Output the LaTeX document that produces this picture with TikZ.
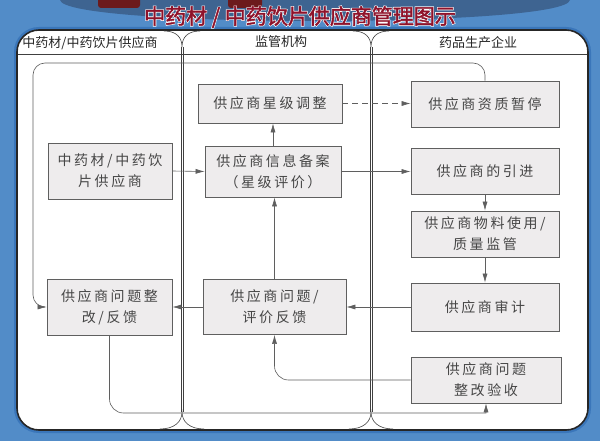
\documentclass[tikz,border=0pt]{standalone}
\usepackage{fontspec}
\usetikzlibrary{positioning}
\usetikzlibrary{calc}
\usetikzlibrary{arrows.meta}
\newfontfamily\cjk{Noto Sans CJK SC}
\newfontfamily\boxcjk[LetterSpace=18]{Noto Sans CJK SC}
\newfontfamily\titlecjk[FakeBold=2]{Noto Sans CJK SC}
\newfontfamily\titleedge[FakeBold=8]{Noto Sans CJK SC}
\definecolor{bgblue}{RGB}{82,140,200}
\definecolor{haloblue}{RGB}{58,118,186}
\definecolor{darkcap}{RGB}{62,100,145}
\definecolor{maroon}{RGB}{108,26,28}
\definecolor{titlered}{RGB}{142,18,42}
\definecolor{boxgray}{RGB}{238,236,237}
\definecolor{linegray}{RGB}{95,95,95}
\definecolor{textgray}{RGB}{70,70,70}

\begin{document}
\begin{tikzpicture}[x=1pt, y=-1pt,
    stepbox/.style={draw=linegray, fill=boxgray, line width=0.8pt, align=center,
        inner sep=0pt, font=\boxcjk\fontsize{14}{21}\selectfont, text=textgray},
    lane/.style={font=\cjk\fontsize{13}{15}\selectfont, text=black!85},
    arr/.style={draw=linegray, line width=0.6pt, -{Latex[length=9pt,width=5pt]}},
    edge/.style={draw=black!75, line width=0.6pt}]
    \useasboundingbox (0,0) rectangle (600,441);
    \fill[bgblue] (0,0) rectangle (600,441);
    \fill[darkcap] (60,0) .. controls (64,28) and (566,28) .. (570,0) -- cycle;
    \fill[maroon, rounded corners=3pt] (98,-5) rectangle (140,8);
    \fill[maroon, rounded corners=3pt] (228,-5) rectangle (262,8);

    \draw[haloblue, line width=6pt, rounded corners=22pt] (17,30) rectangle (588,430);
    \draw[fill=white, draw=black!85, line width=1.6pt, rounded corners=22pt] (17,30) rectangle (588,430);

    \node[text=white, font=\titleedge\fontsize{21}{24}\selectfont] (titleback) at (300,17) {中药材 / 中药饮片供应商管理图示};
    \node[text=titlered, font=\titlecjk\fontsize{21}{24}\selectfont] (title) at (300,17) {中药材 / 中药饮片供应商管理图示};

    \draw[edge] (18,54) -- (587,54);
    \foreach \x in {182, 371} {
        \draw[edge] (\x-1,47) -- (\x-1,412);
        \draw[edge] (\x+1,47) -- (\x+1,412);
        \draw[edge] (\x-18,31) .. controls (\x-6,31) and (\x,37) .. (\x,47)
            .. controls (\x,37) and (\x+6,31) .. (\x+18,31);
        \draw[edge] (\x-22,429) .. controls (\x-8,429) and (\x,422) .. (\x,412)
            .. controls (\x,422) and (\x+8,429) .. (\x+22,429);
    }

    \node[lane] (lanesup) at (90,43) {中药材/中药饮片供应商};
    \node[lane] (lanereg) at (281,42) {监管机构};
    \node[lane] (laneent) at (478,43) {药品生产企业};

    \node[stepbox, minimum width=124pt, minimum height=56pt] (supplier) at (110,171) {中药材/中药饮\\片供应商};
    \node[stepbox, minimum width=144pt, minimum height=39pt] (adjust) at (270,103.5) {供应商星级调整};
    \node[stepbox, minimum width=136pt, minimum height=51pt] (record) at (273,171.5) {供应商信息备案\\（星级评价）};
    \node[stepbox, minimum width=148pt, minimum height=46pt] (suspend) at (485,104) {供应商资质暂停};
    \node[stepbox, minimum width=148pt, minimum height=46pt] (intro) at (485,171) {供应商的引进};
    \node[stepbox, minimum width=148pt, minimum height=46pt] (monitor) at (485,234) {供应商物料使用/\\质量监管};
    \node[stepbox, minimum width=148pt, minimum height=48pt] (audit) at (485,307) {供应商审计};
    \node[stepbox, minimum width=150pt, minimum height=46pt] (accept) at (486,380) {供应商问题\\整改验收};
    \node[stepbox, minimum width=125pt, minimum height=56pt] (rectify) at (109.5,307) {供应商问题整\\改/反馈};
    \node[stepbox, minimum width=143pt, minimum height=55pt] (feedback) at (274.5,307) {供应商问题/\\评价反馈};

    \coordinate (looptop) at (33,63);
    \coordinate (loopbottom) at (300,413);

    \draw[arr] (supplier.east) -- (record.west);
    \draw[arr] (record.north) -- (record.north |- adjust.south);
    \draw[arr, dashed, dash pattern=on 6pt off 4pt] (adjust.east) -- (suspend.west |- adjust.east);
    \draw[arr] (record.east) -- (intro.west |- record.east);
    \draw[arr] (intro.south) -- (monitor.north);
    \draw[arr] (monitor.south) -- (audit.north);
    \draw[arr] (audit.west) -- (feedback.east);
    \draw[arr] (feedback.west) -- (rectify.east);
    \draw[arr] (feedback.north) -- (feedback.north |- record.south);
    \draw[arr, rounded corners=12pt] (suspend.north) |- (looptop) |- (rectify.west);
    \draw[arr, rounded corners=14pt] (rectify.south) |- (loopbottom) [sharp corners] -| (accept.south);
    \draw[arr, rounded corners=14pt] (accept.west) -| (feedback.south);
\end{tikzpicture}
\end{document}
